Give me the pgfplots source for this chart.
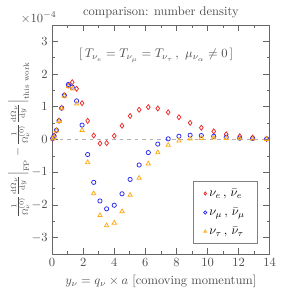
\documentclass[border=0pt]{standalone}
\usepackage{pgfplots}
\pgfplotsset{compat=1.18}
\usepackage{pgfplotstable}
\usepackage{amsmath}
\definecolor{cred}{RGB}{240,40,40}
\definecolor{cblue}{RGB}{40,40,240}
\definecolor{corange}{RGB}{255,170,20}
\pgfplotstableread{
x red blue orange
0.04 0.03 0.03 0.02
0.13 0.12 0.10 0.08
0.28 0.28 0.28 0.27
0.45 0.58 0.57 0.56
0.62 0.97 0.96 0.95
0.79 1.35 1.35 1.33
1.05 1.65 1.68 1.62
1.30 1.75 1.60 1.55
1.58 1.55 1.18 1.09
1.93 1.11 0.44 0.28
2.29 0.57 -0.46 -0.70
2.68 0.12 -1.31 -1.65
3.08 -0.12 -1.88 -2.32
3.51 -0.11 -2.12 -2.63
4.00 0.11 -2.01 -2.55
4.50 0.42 -1.66 -2.20
5.02 0.72 -1.22 -1.70
5.60 0.91 -0.78 -1.18
6.19 0.99 -0.40 -0.74
6.80 0.95 -0.14 -0.40
7.47 0.83 0.02 -0.17
8.16 0.68 0.10 -0.04
8.88 0.51 0.13 0.02
9.60 0.36 0.12 0.04
10.40 0.25 0.10 0.05
11.20 0.16 0.07 0.04
12.07 0.10 0.04 0.03
12.90 0.06 0.03 0.02
13.80 0.02 0.02 0.01
}\data
\begin{document}
\begin{tikzpicture}
\begin{axis}[
  name=ax,
  scale only axis,
  width=174pt, height=183pt,
  xmin=0, xmax=14, ymin=-3.5, ymax=3.5,
  xtick={0,2,...,14}, ytick={-3,-2,...,3},
  minor x tick num=1, minor y tick num=1,
  major tick length=5pt, minor tick length=2.5pt,
  axis line style={gray!80!black, line width=0.6pt},
  tick style={gray!80!black, line width=0.5pt},
  tick label style={text=gray!60!black},
  title={comparison: number density},
  title style={text=gray!60!black, yshift=-4pt},
  xlabel={$y_\nu = q_\nu \times a$ [comoving momentum]},
  ylabel={$\frac{1}{\Omega^{(0)}_\nu}\frac{\mathrm{d}\Omega_\nu}{\mathrm{d}y}\Big|_{\mathrm{FP}} - \frac{1}{\Omega^{(0)}_\nu}\frac{\mathrm{d}\Omega_\nu}{\mathrm{d}y}\Big|_{\text{this work}}$},
  label style={text=gray!60!black},
  ylabel style={font=\small, yshift=-5pt},
  legend cell align=left,
  legend image post style={mark size=1.3pt},
  legend style={at={(0.945,0.044)}, anchor=south east, draw=gray, line width=0.6pt, row sep=4pt, inner xsep=8pt, inner ysep=4pt, font=\normalsize,
    /tikz/every even column/.append style={column sep=10pt}},
  clip=false,
]
\addplot[gray!60, dashed, line width=0.8pt, forget plot] coordinates {(0,0) (14,0)};
\addplot[only marks, mark=diamond, mark size=2pt, cred, line width=0.6pt] table[x=x, y=red] {\data};
\addlegendentry{$\nu_e\,,\,\bar{\nu}_e$}
\addplot[only marks, mark=o, mark size=1.7pt, cblue, line width=0.6pt] table[x=x, y=blue] {\data};
\addlegendentry{$\nu_\mu\,,\,\bar{\nu}_\mu$}
\addplot[only marks, mark=triangle, mark size=2pt, corange, line width=0.6pt] table[x=x, y=orange] {\data};
\addlegendentry{$\nu_\tau\,,\,\bar{\nu}_\tau$}
\node[text=gray!60!black] at (axis cs:6.7,2.57) {$[\,T_{\nu_e} = T_{\nu_\mu} = T_{\nu_\tau}\,,\ \mu_{\nu_\alpha} \neq 0\,]$};
\node[text=gray!60!black, anchor=south west, inner sep=1pt] at (rel axis cs:-0.15,1.0) {$\times 10^{-4}$};
\end{axis}
\pgfresetboundingbox
\useasboundingbox ([shift={(-41.6pt,-32.8pt)}]ax.south west) rectangle ([shift={(10.4pt,20pt)}]ax.north east);
\end{tikzpicture}
\end{document}
